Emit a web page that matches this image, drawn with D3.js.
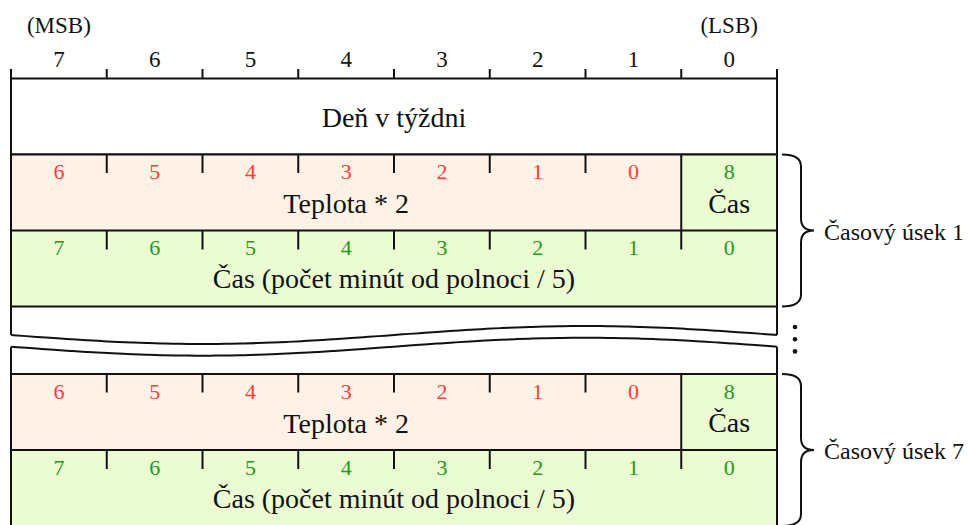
<!DOCTYPE html>
<html>
<head>
<meta charset="utf-8">
<script src="https://cdn.jsdelivr.net/npm/d3@7"></script>
<style>
	body { margin: 0; background: #fff; }
	.edge { stroke: #111; stroke-width: 2; fill: none; }
</style>
</head>
<body>
<div id="svg"></div>
<script>
// bit numbers of the byte, MSB on the left
var topBits = [7, 6, 5, 4, 3, 2, 1, 0];
var endLabels = ["(MSB)", "(LSB)"];
// first byte of a time slot: temperature bits 6..0, then time bit 8
var tempBits = [6, 5, 4, 3, 2, 1, 0];
var timeHighBit = [8];
// second byte: time bits 7..0
var timeBits = [7, 6, 5, 4, 3, 2, 1, 0];
var headerLabel = "Deň v týždni";
var tempLabel = "Teplota * 2";
var timeShort = "Čas";
var timeLabel = "Čas (počet minút od polnoci / 5)";
var slots = ["Časový úsek 1", "Časový úsek 7"];

var width = 969, height = 525;
var red = "#ff3c3c", green = "#1f9a1f";
var peach = "#fdf2e5", lime = "#ebfbd2";
var serif = "'Liberation Serif', 'Times New Roman', Tinos, 'DejaVu Serif', serif";

var x = d3.scaleLinear().domain([0, 8]).range([11, 777]);
var rowH = 76;
var topY = 78.5;
// y of the first byte of each slot
var slotY = d3.scaleOrdinal().domain(slots).range([154.5, 374]);

var svg = d3.select("#svg").append("svg")
	.attr("width", width)
	.attr("height", height)
	.attr("font-family", serif)
	.attr("fill", "#111");

// --- header bits
svg.append("g").selectAll("text").data(topBits).enter().append("text")
	.attr("x", function(d, i){ return x(i + 0.5); })
	.attr("y", 66.5)
	.attr("text-anchor", "middle")
	.attr("font-family", serif)
	.attr("font-size", 23)
	.text(function(d){ return d; });

svg.append("g").selectAll("text").data(endLabels).enter().append("text")
	.attr("x", function(d, i){ return i == 0 ? x(0.5) : x(7.5); })
	.attr("y", 32.5)
	.attr("text-anchor", "middle")
	.attr("font-family", serif)
	.attr("font-size", 23)
	.text(function(d){ return d; });

// top ruler ticks
svg.append("g").selectAll("line").data(d3.range(1, 8)).enter().append("line")
	.attr("class", "edge")
	.attr("x1", function(d){ return x(d); }).attr("x2", function(d){ return x(d); })
	.attr("y1", 69).attr("y2", 87);

// day of week row
svg.append("rect").attr("class", "edge")
	.attr("x", x(0)).attr("y", topY)
	.attr("width", x(8) - x(0)).attr("height", rowH)
	.style("fill", "#fff");
svg.append("text")
	.attr("x", x(4)).attr("y", 126.5)
	.attr("text-anchor", "middle")
	.attr("font-family", serif)
	.attr("font-size", 28)
	.text(headerLabel);

// --- one time slot (two bytes)
function drawSlot(name, y0) {
	var g = svg.append("g").attr("class", "slot").attr("font-family", serif);

	g.append("rect").attr("x", x(0)).attr("y", y0)
		.attr("width", x(7) - x(0)).attr("height", rowH)
		.style("fill", peach);
	g.append("rect").attr("x", x(7)).attr("y", y0)
		.attr("width", x(8) - x(7)).attr("height", rowH)
		.style("fill", lime);
	g.append("rect").attr("x", x(0)).attr("y", y0 + rowH)
		.attr("width", x(8) - x(0)).attr("height", rowH)
		.style("fill", lime);

	// horizontal lines
	[y0, y0 + rowH, y0 + 2 * rowH].forEach(function(yy){
		g.append("line").attr("class", "edge")
			.attr("x1", x(0)).attr("x2", x(8))
			.attr("y1", yy).attr("y2", yy);
	});
	// divider between temperature and time bit 8
	g.append("line").attr("class", "edge")
		.attr("x1", x(7)).attr("x2", x(7))
		.attr("y1", y0).attr("y2", y0 + rowH + 19);

	g.selectAll(".t1").data(d3.range(1, 7)).enter().append("line")
		.attr("class", "edge")
		.attr("x1", function(d){ return x(d); }).attr("x2", function(d){ return x(d); })
		.attr("y1", y0).attr("y2", y0 + 18.5);
	g.selectAll(".t2").data(d3.range(1, 7)).enter().append("line")
		.attr("class", "edge")
		.attr("x1", function(d){ return x(d); }).attr("x2", function(d){ return x(d); })
		.attr("y1", y0 + rowH).attr("y2", y0 + rowH + 19);

	g.selectAll(".rb").data(tempBits).enter().append("text")
		.attr("x", function(d, i){ return x(i + 0.5); })
		.attr("y", y0 + 24.5)
		.attr("text-anchor", "middle")
		.attr("font-size", 22).attr("fill", red)
		.text(function(d){ return d; });
	g.selectAll(".gb").data(timeHighBit).enter().append("text")
		.attr("x", x(7.5))
		.attr("y", y0 + 24.5)
		.attr("text-anchor", "middle")
		.attr("font-size", 22).attr("fill", green)
		.text(function(d){ return d; });
	g.selectAll(".gb2").data(timeBits).enter().append("text")
		.attr("x", function(d, i){ return x(i + 0.5); })
		.attr("y", y0 + rowH + 24.5)
		.attr("text-anchor", "middle")
		.attr("font-size", 22).attr("fill", green)
		.text(function(d){ return d; });

	g.append("text").attr("x", x(3.5)).attr("y", y0 + 58.5)
		.attr("text-anchor", "middle").attr("font-size", 28).attr("fill", "#111")
		.text(tempLabel);
	g.append("text").attr("x", x(7.5)).attr("y", y0 + 58)
		.attr("text-anchor", "middle").attr("font-size", 28).attr("fill", "#111")
		.text(timeShort);
	g.append("text").attr("x", x(4)).attr("y", y0 + rowH + 57.5)
		.attr("text-anchor", "middle").attr("font-size", 28).attr("fill", "#111")
		.text(timeLabel);

	// curly brace
	var bx0 = x(8) + 5, bx1 = x(8) + 24, bx2 = x(8) + 37, r = 12;
	var ya = y0, yb = y0 + 2 * rowH, ym = (ya + yb) / 2;
	var p = d3.path();
	p.moveTo(bx0, ya);
	p.quadraticCurveTo(bx1, ya, bx1, ya + r);
	p.lineTo(bx1, ym - r);
	p.quadraticCurveTo(bx1, ym, bx2, ym);
	p.quadraticCurveTo(bx1, ym, bx1, ym + r);
	p.lineTo(bx1, yb - r);
	p.quadraticCurveTo(bx1, yb, bx0, yb);
	g.append("path").attr("class", "edge").attr("d", p.toString());

	g.append("text").attr("x", bx2 + 10).attr("y", ym + 9)
		.attr("font-size", 24).attr("fill", "#111")
		.text(name);
}

slots.forEach(function(s){ drawSlot(s, slotY(s)); });

// --- break between slot 1 and slot 7
var waveAmp = 9;
function wave(y0) {
	return d3.range(0, 1.0001, 0.02).map(function(t){
		return [x(8 * t), y0 + waveAmp * Math.sin(2 * Math.PI * t)];
	});
}
var line = d3.line().curve(d3.curveBasis);
svg.append("path").attr("class", "edge").attr("d", line(wave(335)));
svg.append("path").attr("class", "edge").attr("d", line(wave(346.7)));

// outer vertical borders, upper and lower parts
[[69, 335], [346.7, 530]].forEach(function(seg){
	[x(0), x(8)].forEach(function(xx){
		svg.append("line").attr("class", "edge")
			.attr("x1", xx).attr("x2", xx)
			.attr("y1", seg[0]).attr("y2", seg[1]);
	});
});

// vertical ellipsis
svg.append("g").selectAll("circle").data([0, 1, 2]).enter().append("circle")
	.attr("cx", x(8) + 18)
	.attr("cy", function(d){ return 327 + d * 12.2; })
	.attr("r", 2.3)
	.style("fill", "#111");
</script>
</body>
</html>
